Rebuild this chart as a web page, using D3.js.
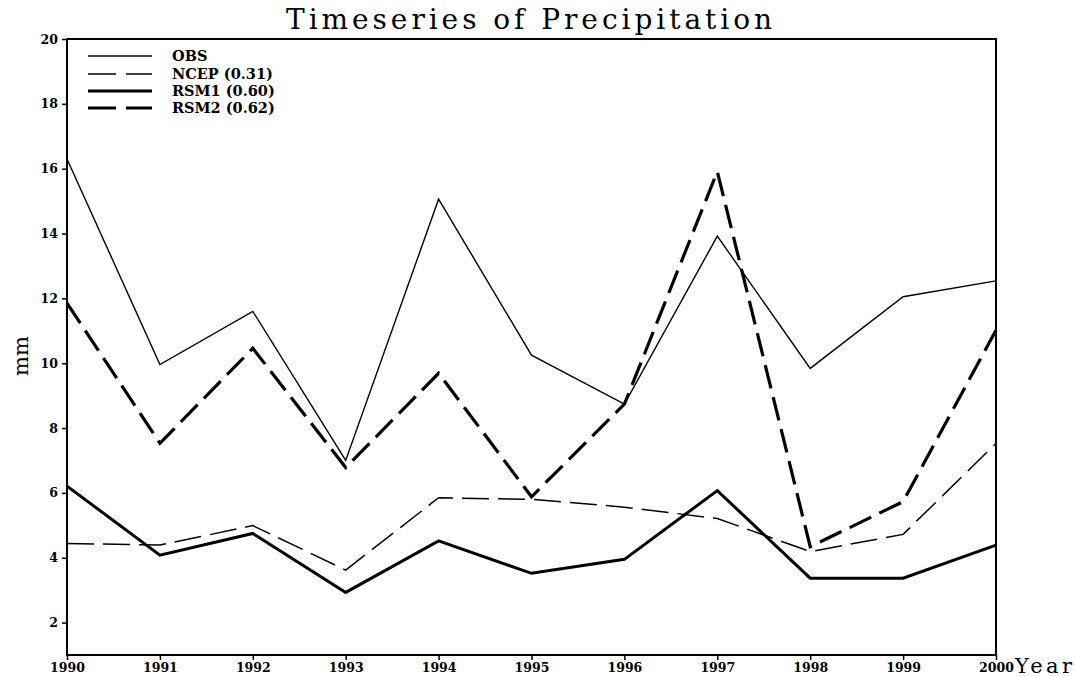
<!DOCTYPE html>
<html>
<head>
<meta charset="utf-8">
<script src="https://cdn.jsdelivr.net/npm/d3@7"></script>
<style>
  body { margin: 0; background: #fff; }
  svg { display: block; }
  .tick text { font-family: "DejaVu Serif", serif; font-weight: bold; font-size: 12.5px; fill: #000; }
  .tick line { stroke: #000; stroke-width: 1.5; }
</style>
</head>
<body>
<svg id="chart" width="1076" height="677"></svg>
<script>
// values
const years = [1990, 1991, 1992, 1993, 1994, 1995, 1996, 1997, 1998, 1999, 2000];
const obs  = [16.3, 9.96, 11.6, 7.0, 15.06, 10.25, 8.74, 13.92, 9.84, 12.05, 12.54];
const ncep = [4.44, 4.39, 4.99, 3.62, 5.85, 5.8, 5.56, 5.21, 4.19, 4.72, 7.53];
const rsm1 = [6.21, 4.08, 4.75, 2.93, 4.52, 3.52, 3.95, 6.07, 3.37, 3.37, 4.39];
const rsm2 = [11.85, 7.53, 10.46, 6.78, 9.69, 5.88, 8.74, 15.91, 4.34, 5.73, 11.02];
const yTicks = [2, 4, 6, 8, 10, 12, 14, 16, 18, 20];

const seriesNames = ["OBS", "NCEP (0.31)", "RSM1 (0.60)", "RSM2 (0.62)"];
const seriesValues = [obs, ncep, rsm1, rsm2];
const styles = [
  { width: 1.4, dash: null },
  { width: 1.5, dash: "27,9" },
  { width: 3, dash: null },
  { width: 3.2, dash: "24,9" }
];

const plotLeft = 67, plotRight = 996, plotTop = 39, plotBottom = 655;
const svg = d3.select("#chart");

const x = d3.scaleLinear().domain([1990, 2000]).range([plotLeft, plotRight]);
const y = d3.scaleLinear().domain([1, 20]).range([plotBottom, plotTop]);

// axes
const xAxis = d3.axisBottom(x).tickValues(years).tickFormat(d3.format("d"))
  .tickSizeInner(5).tickSizeOuter(0).tickPadding(3);
const yAxis = d3.axisLeft(y).tickValues(yTicks).tickSizeInner(5).tickSizeOuter(0).tickPadding(4);

svg.append("g").attr("transform", `translate(0,${plotBottom})`).call(xAxis)
  .call(g => g.select(".domain").remove());
svg.append("g").attr("transform", `translate(${plotLeft},0)`).call(yAxis)
  .call(g => g.select(".domain").remove());

// frame
svg.append("rect")
  .attr("x", plotLeft).attr("y", plotTop)
  .attr("width", plotRight - plotLeft).attr("height", plotBottom - plotTop)
  .attr("fill", "none").attr("stroke", "#000").attr("stroke-width", 2);

// lines
const line = d3.line()
  .x((d, i) => x(years[i]))
  .y(d => y(d));

seriesValues.forEach((vals, i) => {
  svg.append("path")
    .datum(vals)
    .attr("d", line)
    .attr("fill", "none")
    .attr("stroke", "#000")
    .attr("stroke-width", styles[i].width)
    .attr("stroke-dasharray", styles[i].dash)
    .attr("stroke-linejoin", "miter");
});

// legend
const legendY = [56, 74, 91, 108];
seriesNames.forEach((name, i) => {
  svg.append("line")
    .attr("x1", 88).attr("x2", 152)
    .attr("y1", legendY[i]).attr("y2", legendY[i])
    .attr("stroke", "#000")
    .attr("stroke-width", styles[i].width)
    .attr("stroke-dasharray", styles[i].dash ? "28,10" : null);
  svg.append("text")
    .attr("x", 172).attr("y", legendY[i] + 5)
    .attr("font-family", "DejaVu Serif, serif")
    .attr("font-weight", "bold")
    .attr("font-size", "14.5px")
    .text(name);
});

// title and axis labels
svg.append("text")
  .attr("x", 286).attr("y", 29)
  .attr("font-family", "DejaVu Serif, serif")
  .attr("font-size", "28px")
  .attr("textLength", 486)
  .attr("lengthAdjust", "spacing")
  .text("Timeseries of Precipitation");

svg.append("text")
  .attr("x", 1015).attr("y", 673)
  .attr("font-family", "DejaVu Serif, serif")
  .attr("font-size", "21px")
  .attr("textLength", 57)
  .attr("lengthAdjust", "spacing")
  .text("Year");

svg.append("text")
  .attr("transform", "translate(28,356) rotate(-90)")
  .attr("text-anchor", "middle")
  .attr("font-family", "DejaVu Serif, serif")
  .attr("font-size", "21px")
  .text("mm");
</script>
</body>
</html>
